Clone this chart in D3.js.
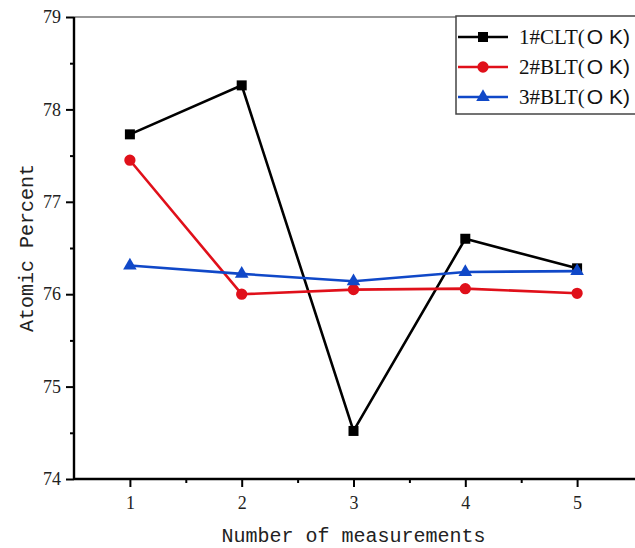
<!DOCTYPE html>
<html>
<head>
<meta charset="utf-8">
<script src="https://cdn.jsdelivr.net/npm/d3@7"></script>
<style>
  body { margin: 0; background: #fff; }
  #chart { width: 635px; height: 548px; }
</style>
</head>
<body>
<div id="chart"></div>
<script>
// data
var measurements = [1, 2, 3, 4, 5];
var clt1 = [77.73, 78.26, 74.52, 76.60, 76.28];
var blt2 = [77.45, 76.00, 76.05, 76.06, 76.01];
var blt3 = [76.31, 76.22, 76.14, 76.24, 76.25];
var seriesNames = ["1#CLT", "2#BLT", "3#BLT"];
var yTicks = [74, 75, 76, 77, 78, 79];

var width = 635, height = 548,
    marginLeft = 74, marginTop = 17,
    chartWidth = 633 - marginLeft,
    chartHeight = 479 - marginTop;

var xScale = d3.scaleLinear().domain([0.5, 5.5]).range([0, chartWidth]);
var yScale = d3.scaleLinear().domain([74, 79]).range([chartHeight, 0]);

var series = [
  { name: seriesNames[0], values: clt1, color: "#000000", symbol: d3.symbolSquare, size: 100 },
  { name: seriesNames[1], values: blt2, color: "#e0101a", symbol: d3.symbolCircle, size: 100 },
  { name: seriesNames[2], values: blt3, color: "#1048c8", symbol: d3.symbolTriangle, size: 80 }
];

var svg = d3.select("#chart").append("svg")
    .attr("width", width)
    .attr("height", height);

var chartArea = svg.append("g")
    .attr("transform", "translate(" + marginLeft + "," + marginTop + ")");

// top frame line
chartArea.append("line")
    .attr("x1", 0).attr("x2", chartWidth + 5)
    .attr("y1", 0).attr("y2", 0)
    .style("stroke", "#333").style("stroke-width", 1.2);

// lines + markers
var line = d3.line()
    .x(function(d, i) { return xScale(measurements[i]); })
    .y(function(d) { return yScale(d); });

series.forEach(function(s) {
  chartArea.append("path")
      .datum(s.values)
      .attr("d", line)
      .style("fill", "none")
      .style("stroke", s.color)
      .style("stroke-width", 2.6);
  chartArea.append("g").selectAll("path").data(s.values).enter()
    .append("path")
      .attr("d", d3.symbol().type(s.symbol).size(s.size))
      .attr("transform", function(d, i) {
        return "translate(" + xScale(measurements[i]) + "," + yScale(d) + ")";
      })
      .style("fill", s.color);
});

// x axis
var xAxis = chartArea.append("g")
    .attr("transform", "translate(0," + chartHeight + ")");
xAxis.call(d3.axisBottom(xScale).tickValues(measurements).tickSize(8).tickFormat(d3.format("d")));
xAxis.append("g").call(d3.axisBottom(xScale).tickValues([1.5, 2.5, 3.5, 4.5]).tickSize(4).tickFormat(""));
xAxis.selectAll(".domain").remove();
xAxis.append("line").attr("x1", 0).attr("x2", chartWidth + 5).style("stroke", "#000").style("stroke-width", 2.4);

// y axis
var yAxis = chartArea.append("g");
yAxis.call(d3.axisLeft(yScale).tickValues(yTicks).tickSize(8).tickFormat(d3.format("d")));
yAxis.append("g").call(d3.axisLeft(yScale).tickValues([74.5, 75.5, 76.5, 77.5, 78.5]).tickSize(4).tickFormat(""));
yAxis.selectAll(".domain").remove();
yAxis.append("line").attr("y1", 0).attr("y2", chartHeight + 1).style("stroke", "#000").style("stroke-width", 2.4);

chartArea.selectAll(".tick line").style("stroke", "#000").style("stroke-width", 2);
chartArea.selectAll(".tick text")
    .style("font-family", "'Liberation Serif', serif")
    .style("font-size", "18px")
    .style("fill", "#222");
xAxis.selectAll(".tick text").attr("dy", "1.05em");
yAxis.selectAll(".tick text").attr("x", -13);

// axis titles
svg.append("text")
    .attr("x", marginLeft + xScale(3))
    .attr("y", 542)
    .style("text-anchor", "middle")
    .style("font-family", "'Liberation Mono', monospace")
    .style("font-size", "20px")
    .style("fill", "#222")
    .text("Number of measurements");

svg.append("text")
    .attr("transform", "translate(33," + (marginTop + yScale(76.5)) + ") rotate(-90)")
    .style("text-anchor", "middle")
    .style("font-family", "'Liberation Mono', monospace")
    .style("font-size", "20px")
    .style("fill", "#222")
    .text("Atomic Percent");

// legend
var legend = svg.append("g");
legend.append("rect")
    .attr("x", 456).attr("y", 16)
    .attr("width", 200).attr("height", 98)
    .style("fill", "#fff")
    .style("stroke", "#444")
    .style("stroke-width", 1.5);

series.forEach(function(s, i) {
  var ly = 37 + i * 30;
  legend.append("line")
      .attr("x1", 458).attr("x2", 508)
      .attr("y1", ly).attr("y2", ly)
      .style("stroke", s.color).style("stroke-width", 2.6);
  legend.append("path")
      .attr("d", d3.symbol().type(s.symbol).size(s.size))
      .attr("transform", "translate(483," + ly + ")")
      .style("fill", s.color);
  var t = legend.append("text")
      .attr("x", 519).attr("y", ly + 7)
      .style("font-size", "21px")
      .style("fill", "#111");
  t.append("tspan")
      .style("font-family", "'Liberation Serif', serif")
      .text(s.name + "(");
  t.append("tspan")
      .style("font-family", "'Liberation Sans', sans-serif")
      .attr("dx", 2)
      .text("O K)");
});
</script>
</body>
</html>
